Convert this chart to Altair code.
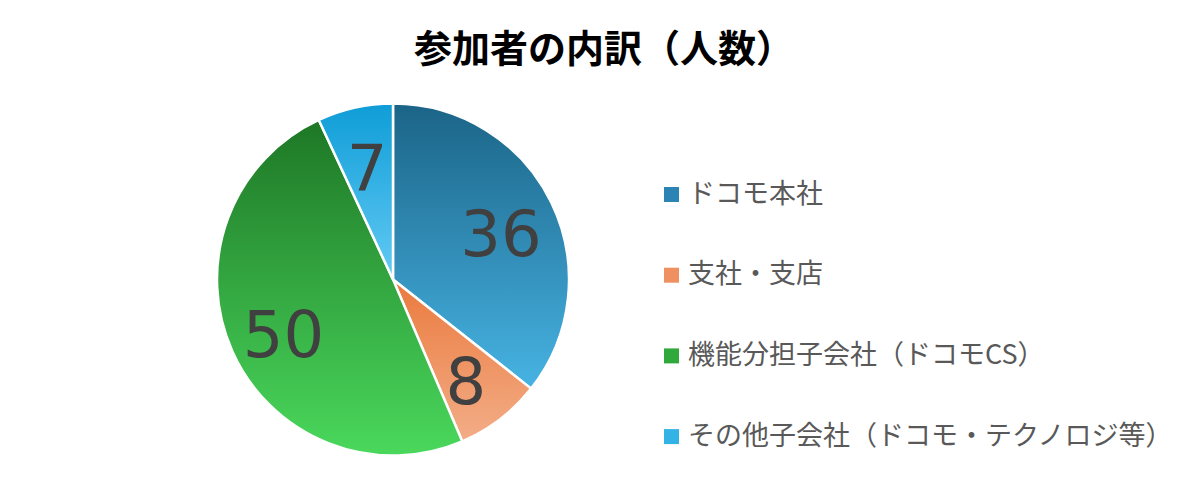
import altair as alt
import pandas as pd

categories = ["ドコモ本社", "支社・支店", "機能分担子会社（ドコモCS）", "その他子会社（ドコモ・テクノロジ等）"]
counts = [36, 8, 50, 7]
top_colors = ["#1b6487", "#ea7a3e", "#1e7726", "#0f9dd7"]
bottom_colors = ["#47b3e3", "#f3ad87", "#4ad85c", "#63caf4"]
legend_colors = ["#2b84b4", "#ee9060", "#2fa83c", "#33b2e6"]

df = pd.DataFrame({"cat": categories, "n": counts, "idx": list(range(len(categories)))})


def grad(top, bottom):
    return {"gradient": "linear", "x1": 0, "y1": 0, "x2": 0, "y2": 1,
            "stops": [{"offset": 0, "color": top}, {"offset": 1, "color": bottom}]}


fill = alt.when(alt.datum.cat == categories[0]).then(alt.value(grad(top_colors[0], bottom_colors[0])))
for i in range(1, len(categories) - 1):
    fill = fill.when(alt.datum.cat == categories[i]).then(alt.value(grad(top_colors[i], bottom_colors[i])))
fill = fill.otherwise(alt.value(grad(top_colors[-1], bottom_colors[-1])))

CX, CY, R = 385, 191.5, 176

base = alt.Chart(df)

pie = base.mark_arc(radius=R, stroke="#ffffff", strokeWidth=2.5).encode(
    theta=alt.Theta("n:Q", stack=True),
    order=alt.Order("idx:Q"),
    fill=fill,
    x=alt.value(CX),
    y=alt.value(CY),
)

labels = base.mark_text(radius=120, font="DejaVu Sans", fontSize=64, color="#404040",
                        align="center", baseline="middle", dy=10).encode(
    theta=alt.Theta("n:Q", stack=True),
    order=alt.Order("idx:Q"),
    text=alt.Text("n:Q"),
    x=alt.value(CX),
    y=alt.value(CY),
)

legend_layer = base.mark_square(opacity=0, filled=True).encode(
    color=alt.Color(
        "cat:N",
        sort=categories,
        scale=alt.Scale(domain=categories, range=legend_colors),
        legend=alt.Legend(
            title=None, orient="none", legendX=650, legendY=93,
            symbolType="square", symbolSize=225, symbolOpacity=1, symbolStrokeWidth=0,
            labelFont="Noto Sans CJK JP", labelFontSize=27, labelColor="#595959",
            labelLimit=800, rowPadding=52.7, labelOffset=3,
        ),
    ),
    x=alt.value(0),
    y=alt.value(0),
)

chart = alt.layer(pie, labels, legend_layer).properties(
    width=1184,
    height=387,
    padding={"top": 80, "left": 0, "right": 0, "bottom": 0},
    autosize=alt.AutoSizeParams(type="none"),
    title=alt.Title("参加者の内訳（人数）", font="Noto Sans CJK JP", fontSize=38,
                    fontWeight="bold", color="#000000", anchor="middle", offset=15, dx=4),
).configure_view(strokeWidth=0)

chart.save("out.html", embed_options={"renderer": "svg", "actions": False})
